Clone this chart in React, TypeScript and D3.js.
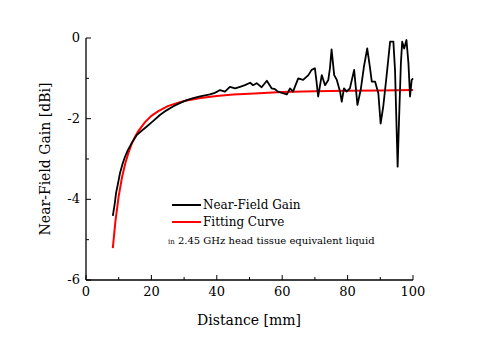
import React from "react";
import * as d3 from "d3";

const nearX = [8.2, 8.8, 9.2, 9.8, 10.4, 11.2, 11.9, 12.8, 14, 15.5, 17, 18.5, 20.5, 22.6, 24.5, 26.6, 28.5, 30.8, 32.8, 34.9, 37.9, 39.4, 41, 42.5, 44, 45.6, 47.1, 48.6, 50.2, 51.1, 52.2, 53.7, 55.3, 56.8, 57.8, 58.7, 60.2, 61.4, 62.4, 63.3, 64.9, 66.4, 68, 69, 70, 70.5, 71, 72.1, 73.1, 74.1, 74.6, 75.1, 75.9, 76.7, 77.7, 78.2, 78.9, 79.7, 80.7, 82, 83, 84, 85, 86, 86.8, 87.4, 88.4, 89.4, 90.1, 90.9, 92, 93, 94, 94.5, 95, 95.3, 95.7, 96.3, 96.7, 97.3, 98, 98.6, 99.1, 99.6, 100];
const nearY = [-4.41, -4.1, -3.84, -3.6, -3.35, -3.12, -2.95, -2.78, -2.6, -2.41, -2.3, -2.2, -2.06, -1.91, -1.8, -1.7, -1.62, -1.54, -1.49, -1.45, -1.4, -1.36, -1.29, -1.33, -1.21, -1.25, -1.21, -1.17, -1.11, -1.17, -1.12, -1.22, -1.06, -1.25, -1.27, -1.33, -1.37, -1.4, -1.25, -1.33, -1.0, -1.04, -0.92, -0.79, -0.75, -1.08, -1.45, -0.92, -1.17, -1.04, -0.75, -0.28, -0.92, -1.04, -1.33, -1.58, -1.25, -1.33, -1.25, -0.79, -1.66, -1.29, -0.71, -0.26, -0.71, -1.08, -1.08, -1.37, -2.12, -1.7, -0.88, -0.09, -0.09, -0.79, -2.28, -3.19, -2.11, -0.62, -0.09, -0.26, -0.05, -0.62, -1.45, -1.04, -1.0];

const fitX = [8.2, 9, 10, 11, 12, 13, 14, 15, 16, 18, 20, 22, 25, 28, 30, 35, 40, 45, 50, 60, 70, 80, 90, 100];
const fitY = [-5.21, -4.54, -3.92, -3.46, -3.11, -2.84, -2.62, -2.45, -2.31, -2.09, -1.93, -1.82, -1.69, -1.61, -1.56, -1.49, -1.44, -1.4, -1.38, -1.34, -1.32, -1.31, -1.3, -1.29];

const xTicks = [0, 20, 40, 60, 80, 100];
const yTicks = [0, -2, -4, -6];
const xMinor = [10, 30, 50, 70, 90];
const yMinor = [-1, -3, -5];

const legendLabels = ["Near-Field Gain", "Fitting Curve"];
const noteSmall = "in";
const noteText = " 2.45 GHz head tissue equivalent liquid";

export default function App() {
  const W = 483, H = 339;
  const x = d3.scaleLinear().domain([0, 100]).range([86, 413]);
  const y = d3.scaleLinear().domain([-6, 0]).range([280, 38]);
  const line = d3.line<[number, number]>().x(d => x(d[0])).y(d => y(d[1]));
  const nearPts: [number, number][] = nearX.map((v, i) => [v, nearY[i]]);
  const fitPts: [number, number][] = fitX.map((v, i) => [v, fitY[i]]);
  const font = "'Book Antiqua', Palatino, 'DejaVu Serif', serif";
  return (
    <svg width={W} height={H} style={{ position: "absolute", left: 0, top: 0, background: "#fff" }} fontFamily={font}>
      <rect width={W} height={H} fill="#fff" />
      <path d={line(fitPts) || ""} fill="none" stroke="#ff0000" strokeWidth={2} />
      <path d={line(nearPts) || ""} fill="none" stroke="#000" strokeWidth={1.8} strokeLinejoin="round" />
      <line x1={x(0)} x2={x(0)} y1={y(0)} y2={y(-6)} stroke="#000" strokeWidth={1.3} />
      <line x1={x(0)} x2={x(100)} y1={y(-6)} y2={y(-6)} stroke="#000" strokeWidth={1.3} />
      {xTicks.map(t => (
        <g key={"xt" + t}>
          <line x1={x(t)} x2={x(t)} y1={y(-6)} y2={y(-6) - 5} stroke="#000" strokeWidth={1} />
          <text x={x(t)} y={y(-6) + 16} fontSize={13} textAnchor="middle">{t}</text>
        </g>
      ))}
      {xMinor.map(t => (
        <line key={"xm" + t} x1={x(t)} x2={x(t)} y1={y(-6)} y2={y(-6) - 3} stroke="#000" strokeWidth={1} />
      ))}
      {yTicks.map(t => (
        <g key={"yt" + t}>
          <line x1={x(0)} x2={x(0) + 5} y1={y(t)} y2={y(t)} stroke="#000" strokeWidth={1} />
          <text x={x(0) - 6} y={y(t) + 4} fontSize={13} textAnchor="end">{t}</text>
        </g>
      ))}
      {yMinor.map(t => (
        <line key={"ym" + t} x1={x(0)} x2={x(0) + 3} y1={y(t)} y2={y(t)} stroke="#000" strokeWidth={1} />
      ))}
      <text x={249} y={325} fontSize={14} textAnchor="middle">Distance [mm]</text>
      <text transform={`translate(50,${(y(0) + y(-6)) / 2}) rotate(-90)`} fontSize={14} textAnchor="middle">Near-Field Gain [dBi]</text>
      <line x1={172} x2={201} y1={205} y2={205} stroke="#000" strokeWidth={2} />
      <text x={203} y={209} fontSize={12}>{legendLabels[0]}</text>
      <line x1={172} x2={201} y1={222} y2={222} stroke="#ff0000" strokeWidth={2} />
      <text x={203} y={226} fontSize={12}>{legendLabels[1]}</text>
      <text x={168} y={244} fontSize={10}>
        <tspan fontSize={7}>{noteSmall}</tspan>
        <tspan>{noteText}</tspan>
      </text>
    </svg>
  );
}
